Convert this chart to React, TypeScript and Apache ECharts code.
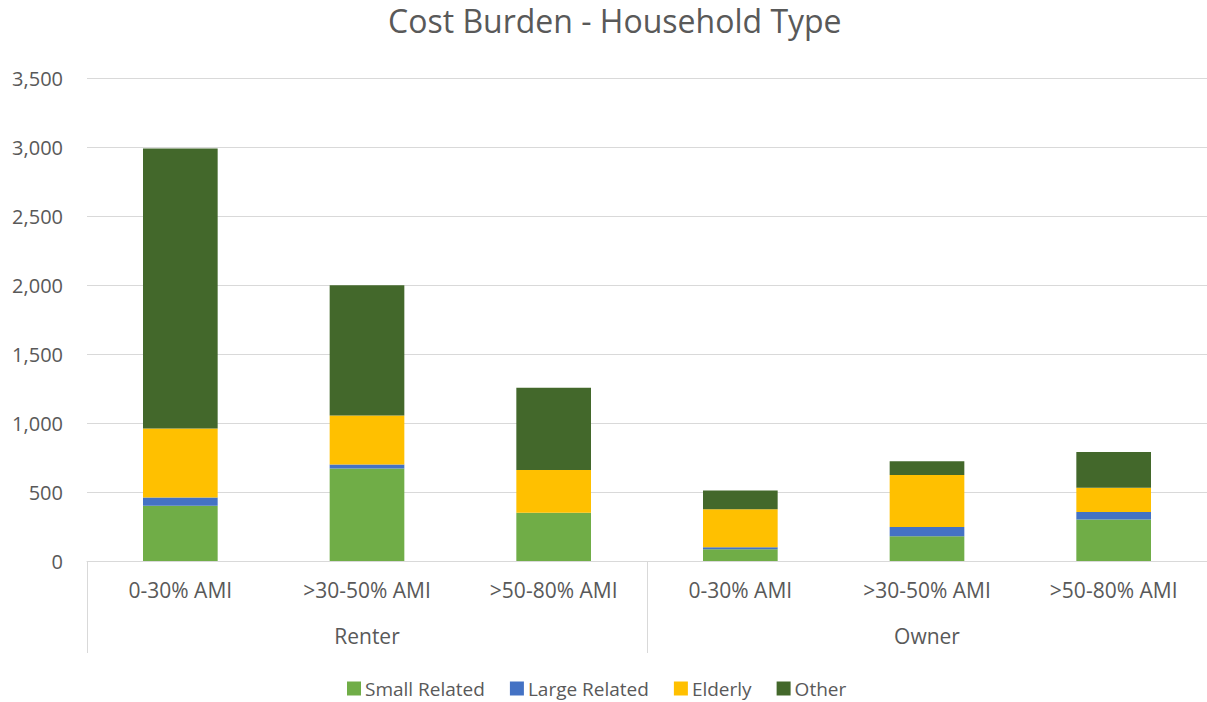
import React, { useEffect, useRef } from "react";
import * as echarts from "echarts";

const categories = ["0-30% AMI", ">30-50% AMI", ">50-80% AMI", "0-30% AMI", ">30-50% AMI", ">50-80% AMI"];
const groups = ["Renter", "Owner"];
const smallRelated = [400, 670, 350, 85, 180, 300];
const largeRelated = [60, 30, 0, 15, 66, 55];
const elderly = [500, 355, 310, 275, 377, 175];
const other = [2030, 943, 595, 136, 100, 260];
const yTicks = { min: 0, max: 3500, interval: 500 };

const FONT = "Open Sans";
const TXT = "#595959";

export default function App() {
  const ref = useRef<HTMLDivElement>(null);
  useEffect(() => {
    if (!ref.current) return;
    const chart = echarts.init(ref.current, null, { renderer: "svg" });
    const seriesDef = [
      { name: "Small Related", data: smallRelated, color: "#70AD47" },
      { name: "Large Related", data: largeRelated, color: "#4472C4" },
      { name: "Elderly", data: elderly, color: "#FFC000" },
      { name: "Other", data: other, color: "#43682B" },
    ];
    chart.setOption({
      animation: false,
      textStyle: { fontFamily: FONT, color: TXT },
      title: {
        text: "Cost Burden - Household Type",
        left: 388,
        top: 4,
        padding: 0,
        textStyle: { fontFamily: FONT, fontSize: 32, fontWeight: "normal", color: TXT },
      },
      legend: {
        top: 678,
        left: 347,
        padding: 0,
        itemWidth: 14,
        itemHeight: 14,
        itemGap: 25,
        icon: "rect",
        textStyle: { fontFamily: FONT, fontSize: 19, color: TXT, lineHeight: 21, padding: [0, 0, 0, -1] },
        data: seriesDef.map((s) => s.name),
      },
      grid: { left: 87, right: 0, top: 78, bottom: 141 },
      xAxis: [
        {
          type: "category",
          data: categories,
          position: "bottom",
          axisLine: { show: true, lineStyle: { color: "#D9D9D9", width: 1 } },
          axisTick: { show: false },
          axisLabel: { fontFamily: FONT, fontSize: 21, color: TXT, margin: 18, interval: 0 },
        },
        {
          type: "category",
          data: groups,
          position: "bottom",
          axisLine: { show: false },
          axisTick: { show: true, length: 92, lineStyle: { color: "#D9D9D9", width: 1 } },
          axisLabel: { fontFamily: FONT, fontSize: 21, color: TXT, margin: 64, interval: 0 },
        },
      ],
      yAxis: {
        type: "value",
        min: yTicks.min,
        max: yTicks.max,
        interval: yTicks.interval,
        axisLine: { show: false },
        axisTick: { show: false },
        splitLine: { lineStyle: { color: "#D9D9D9", width: 1 } },
        axisLabel: {
          fontFamily: FONT,
          fontSize: 20,
          color: TXT,
          margin: 24,
          formatter: (v: number) => v.toLocaleString("en-US"),
        },
      },
      series: seriesDef.map((s) => ({
        name: s.name,
        type: "bar",
        stack: "total",
        xAxisIndex: 0,
        data: s.data,
        barWidth: "40%",
        itemStyle: { color: s.color },
      })),
    });
    return () => chart.dispose();
  }, []);
  return (
    <div
      ref={ref}
      style={{ position: "absolute", left: 0, top: 0, width: 1207, height: 702, background: "#fff" }}
    />
  );
}
